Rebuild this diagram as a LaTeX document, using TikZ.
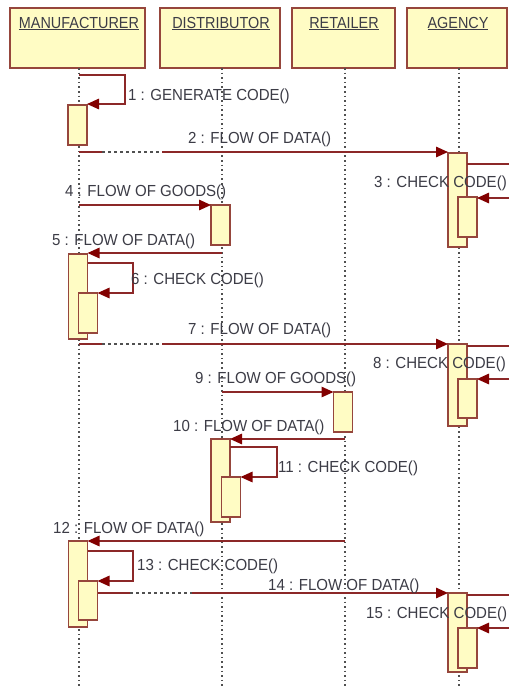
\documentclass[tikz,border=0pt]{standalone}
\usepackage{fontspec}
\setmainfont{Liberation Sans}
\newfontfamily\lblfont[FakeStretch=0.94]{Liberation Sans}
\newfontfamily\hdrfont[FakeStretch=0.9]{Liberation Sans}
\usetikzlibrary{arrows.meta,calc}
\definecolor{boxfill}{RGB}{255,252,196}
\definecolor{boxdraw}{RGB}{150,70,60}
\definecolor{msg}{RGB}{140,40,40}
\definecolor{head}{RGB}{130,0,0}
\definecolor{txt}{RGB}{60,60,70}
\definecolor{life}{RGB}{80,80,80}
\begin{document}
\begin{tikzpicture}[x=1pt,y=-1pt,
  hdr/.style={draw=boxdraw, fill=boxfill, line width=1.2pt, inner sep=0pt, outer sep=0pt, minimum height=60pt},
  act/.style={draw=boxdraw, fill=boxfill, line width=1.2pt, inner sep=0pt, outer sep=0pt, minimum width=19pt},
  lifeline/.style={draw=life, line width=1.3pt, dash pattern=on 1.6pt off 3pt},
  msgline/.style={draw=msg, line width=1.4pt},
  msgarrow/.style={msgline, -{Triangle[length=12pt,width=10.5pt,fill=head,color=head]}},
  gap/.style={draw=life, line width=1.2pt, dash pattern=on 3pt off 3pt},
  lbl/.style={font=\lblfont\fontsize{16}{18}\selectfont, text=txt, inner sep=0pt, anchor=base west},
  htxt/.style={font=\hdrfont\fontsize{16}{18}\selectfont, text=txt, inner sep=0pt, anchor=base},
]
\clip (0,0) rectangle (509,689);
\fill[white] (0,0) rectangle (509,689);

% headers
\node[hdr, minimum width=135pt] (hM) at (77.5,38) {};
\node[hdr, minimum width=120pt] (hD) at (220,38) {};
\node[hdr, minimum width=103pt] (hR) at (343.5,38) {};
\node[hdr, minimum width=100pt] (hA) at (457,38) {};
\node[htxt] (tM) at (79,28) {\underline{MANUFACTURER}};
\node[htxt] (tD) at (221,28) {\underline{DISTRIBUTOR}};
\node[htxt] (tR) at (344,28) {\underline{RETAILER}};
\node[htxt] (tA) at (458,28) {\underline{AGENCY}};

% lifelines
\coordinate (eM) at (79,689);
\coordinate (eD) at (222,689);
\coordinate (eR) at (345,689);
\coordinate (eA) at (459,689);
\draw[lifeline] (hM.south -| eM) -- (eM);
\draw[lifeline] (hD.south -| eD) -- (eD);
\draw[lifeline] (hR.south -| eR) -- (eR);
\draw[lifeline] (hA.south -| eA) -- (eA);

% activation boxes
\node[act, minimum height=40pt] (m1) at (77.5,125) {};
\node[act, minimum height=85pt] (m2) at (78,296.5) {};
\node[act, minimum height=40pt] (m2n) at (88,313) {};
\node[act, minimum height=86pt] (m3) at (78,584) {};
\node[act, minimum height=39pt] (m3n) at (88,600.5) {};
\node[act, minimum height=40pt] (d1) at (220.5,225) {};
\node[act, minimum height=83pt] (d2) at (220.5,480.5) {};
\node[act, minimum height=40pt] (d2n) at (231,497) {};
\node[act, minimum height=40pt] (r1) at (343,412) {};
\node[act, minimum height=94pt] (a1) at (457.5,200) {};
\node[act, minimum height=40pt] (a1n) at (467.5,217) {};
\node[act, minimum height=82pt] (a2) at (457.5,385) {};
\node[act, minimum height=39pt] (a2n) at (467.5,398.5) {};
\node[act, minimum height=79pt] (a3) at (457.5,632.5) {};
\node[act, minimum height=40pt] (a3n) at (467.5,648) {};

% 1 : self call manufacturer
\draw[msgarrow] (79,75) -- (125,75) -- (125,104) -- (m1.north east |- 0,104);
% 2
\draw[msgline] (79,152) -- (102,152);
\draw[gap] (102,152) -- (162,152);
\draw[msgarrow] (162,152) -- (a1.north west |- 0,152);
% 3
\draw[msgarrow] (a1.north east |- 0,164) -- (520,164) -- (520,198) -- (a1n.east |- 0,198);
% 4
\draw[msgarrow] (79,205) -- (d1.north west);
% 5
\draw[msgarrow] (222,253) -- (m2.north east |- 0,253);
% 6
\draw[msgarrow] (m2.east |- 0,263) -- (133,263) -- (133,293) -- (m2n.north east);
% 7
\draw[msgline] (79,344) -- (102,344);
\draw[gap] (102,344) -- (162,344);
\draw[msgarrow] (162,344) -- (a2.north west);
% 8
\draw[msgarrow] (a2.east |- 0,346) -- (520,346) -- (520,379) -- (a2n.north east);
% 9
\draw[msgarrow] (222,392) -- (r1.north west);
% 10
\draw[msgarrow] (345,439) -- (d2.north east);
% 11
\draw[msgarrow] (d2.east |- 0,447) -- (277,447) -- (277,477) -- (d2n.north east);
% 12
\draw[msgarrow] (345,541) -- (m3.north east);
% 13
\draw[msgarrow] (m3.east |- 0,551) -- (133,551) -- (133,581) -- (m3n.north east);
% 14
\draw[msgline] (m3n.east |- 0,593) -- (130,593);
\draw[gap] (130,593) -- (192,593);
\draw[msgarrow] (192,593) -- (a3.north west);
% 15
\draw[msgarrow] (a3.east |- 0,595) -- (520,595) -- (520,628) -- (a3n.north east);

% labels
\node[lbl] (l1) at (128,100.7) {1 : GENERATE CODE()};
\node[lbl] (l2) at (188,143.7) {2 : FLOW OF DATA()};
\node[lbl] (l3) at (374,187.7) {3 : CHECK CODE()};
\node[lbl] (l4) at (65,196.7) {4 : FLOW OF GOODS()};
\node[lbl] (l5) at (52,245.7) {5 : FLOW OF DATA()};
\node[lbl] (l6) at (131,284.7) {6 : CHECK CODE()};
\node[lbl] (l7) at (188,334.7) {7 : FLOW OF DATA()};
\node[lbl] (l8) at (373,368.7) {8 : CHECK CODE()};
\node[lbl] (l9) at (195,383.7) {9 : FLOW OF GOODS()};
\node[lbl] (l10) at (173,431.7) {10 : FLOW OF DATA()};
\node[lbl] (l11) at (278,472.7) {11 : CHECK CODE()};
\node[lbl] (l12) at (53,533.7) {12 : FLOW OF DATA()};
\node[lbl] (l13) at (137,570.7) {13 : CHECK CODE()};
\node[lbl] (l14) at (268,590.7) {14 : FLOW OF DATA()};
\node[lbl] (l15) at (366,618.7) {15 : CHECK CODE()};
\end{tikzpicture}
\end{document}
